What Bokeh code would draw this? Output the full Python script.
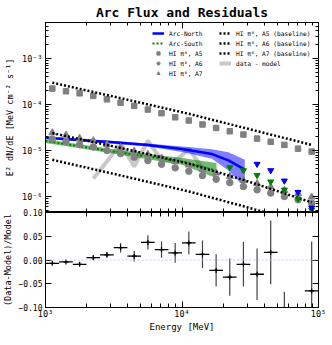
import math
from bokeh.plotting import figure
from bokeh.models import (LogAxis, LinearAxis, FixedTicker, CustomJSTickFormatter,
                          Legend, LegendItem, Span)
from bokeh.layouts import column
from bokeh.embed import file_html
from bokeh.resources import INLINE

FONT = "DejaVu Sans Mono"
NAN = float("nan")

# ---------------- data ----------------
energy = [1122, 1413, 1778, 2239, 2818, 3548, 4467, 5623, 7079, 8913,
          11220, 14125, 17783, 22387, 28184, 35481, 44668, 56234, 70795, 89125]
energy_lo = [1000, 1259, 1585, 1995, 2512, 3162, 3981, 5012, 6310, 7943,
             10000, 12589, 15849, 19953, 25119, 31623, 39811, 50119, 63096, 79433]
energy_hi = [1259, 1585, 1995, 2512, 3162, 3981, 5012, 6310, 7943, 10000,
             12589, 15849, 19953, 25119, 31623, 39811, 50119, 63096, 79433, 100000]

hi_a5 = [2.23e-4, 1.95e-4, 1.76e-4, 1.55e-4, 1.30e-4, 1.10e-4, 9.4e-5, 7.8e-5, 6.5e-5, 5.3e-5,
         4.5e-5, 3.7e-5, 3.1e-5, 2.63e-5, 2.23e-5, 1.82e-5, 1.55e-5, 1.33e-5, 1.10e-5, 9.5e-6]
hi_a6 = [1.79e-5, 1.59e-5, 1.35e-5, 1.20e-5, 1.0e-5, 8.6e-6, 7.15e-6, 6.07e-6, 5.04e-6, 4.21e-6,
         3.55e-6, 2.86e-6, 2.38e-6, 2.01e-6, 1.65e-6, 1.40e-6, 1.19e-6, 1.0e-6, 8.5e-7, 7.15e-7]
hi_a7 = [2.45e-5, 2.17e-5, 1.84e-5, 1.64e-5, 1.36e-5, 1.17e-5, 9.75e-6, 8.3e-6, 6.9e-6, 5.75e-6,
         4.85e-6, 3.9e-6, 3.25e-6, 2.75e-6, 2.25e-6, 1.91e-6, 1.62e-6, 1.36e-6, 1.16e-6, 9.75e-7]

base_energy = [1122, 3548, 11220, 28184, 89125]
base_a5 = [3.0e-4, 1.38e-4, 6.3e-5, 3.15e-5, 1.33e-5]
base_a6 = [2.40e-5, 1.14e-5, 5.2e-6, 2.30e-6, 7.5e-7]
base_a7 = [6.3e-6, 2.88e-6, 1.29e-6, 6.15e-7, 2.34e-7]

north_energy = [1000, 1778, 3162, 5623, 10000, 16596, 21878, 28840]
north_flux = [1.89e-5, 1.69e-5, 1.51e-5, 1.32e-5, 1.08e-5, 8.4e-6, 6.1e-6, 3.85e-6]
north_hi = [2.0e-5, 1.8e-5, 1.62e-5, 1.43e-5, 1.23e-5, 1.07e-5, 9.2e-6, 6.3e-6]
north_lo = [1.78e-5, 1.58e-5, 1.41e-5, 1.22e-5, 9.3e-6, 6.6e-6, 3.7e-6, 1.6e-6]

south_energy = [1000, 1778, 3162, 5623, 10000, 17900]
south_flux = [1.61e-5, 1.24e-5, 9.5e-6, 7.4e-6, 5.8e-6, 3.67e-6]
south_hi = [1.77e-5, 1.37e-5, 1.07e-5, 8.5e-6, 6.9e-6, 5.4e-6]
south_lo = [1.47e-5, 1.12e-5, 8.5e-6, 6.5e-6, 4.9e-6, 2.5e-6]

north_ul_energy = [35481, 44668, 56234, 70795, 89125]
north_ul = [5.1e-6, 3.7e-6, 2.2e-6, 1.24e-6, 5.7e-7]
south_ul_energy = [22387, 28184, 35481, 44668, 56234, 70795, 89125]
south_ul = [4.3e-6, 3.7e-6, 2.9e-6, 2.1e-6, 1.4e-6, 8.9e-7, 5.1e-7]

data_minus_model = [NAN, NAN, NAN, 2.46e-6, 5.8e-6, 1.42e-5, 4.5e-6, 1.65e-5, 6.1e-6, 5.8e-6,
                    1.1e-5, 4.1e-6, NAN, NAN, NAN, NAN, NAN, NAN, NAN, NAN]

residual = [-0.007, -0.004, -0.009, 0.005, 0.011, 0.026, 0.008, 0.037, 0.022, 0.015,
            0.036, 0.012, -0.022, -0.036, -0.009, -0.030, 0.016, -0.14, -0.25, -0.065]
residual_err = [0.003, 0.003, 0.003, 0.005, 0.006, 0.010, 0.011, 0.015, 0.017, 0.021,
                0.024, 0.029, 0.034, 0.039, 0.047, 0.054, 0.067, 0.073, 0.10, 0.104]

x_major = [1e3, 1e4, 1e5]
x_minor = [m * 10 ** e for e in (3, 4) for m in range(2, 10)]
y_major = [1e-6, 1e-5, 1e-4, 1e-3]
y_minor = [m * 10.0 ** e for e in (-7, -6, -5, -4, -3) for m in range(2, 10)]
res_ticks = [-0.10, -0.05, 0.0, 0.05, 0.10]

# ---------------- formatters ----------------
sup_fmt = CustomJSTickFormatter(code=r"""
const sup = {"-": "\u207b", "0": "\u2070", "1": "\u00b9", "2": "\u00b2", "3": "\u00b3",
             "4": "\u2074", "5": "\u2075", "6": "\u2076", "7": "\u2077", "8": "\u2078", "9": "\u2079"};
const e = Math.round(Math.log10(tick));
return "10" + String(e).split("").map(c => sup[c]).join("");
""")
res_fmt = CustomJSTickFormatter(code=r"""
const s = Math.abs(tick).toFixed(2);
return (tick < -1e-9 ? "\u2212" : "") + s;
""")


def style_axis(ax, labels=True, major_in=6, minor_in=3, size="8px"):
    ax.major_tick_in = major_in
    ax.major_tick_out = 0
    ax.minor_tick_in = minor_in
    ax.minor_tick_out = 0
    ax.axis_line_color = "black"
    ax.major_tick_line_color = "black"
    ax.minor_tick_line_color = "black"
    ax.major_label_text_font = FONT
    if labels:
        ax.major_label_text_font_size = size
        ax.major_label_text_color = "black"
        ax.major_label_standoff = 3
    else:
        ax.major_label_text_font_size = "1px"
        ax.major_label_text_alpha = 0
        ax.major_label_standoff = 0


# ---------------- top panel ----------------
p1 = figure(frame_width=273, frame_height=190, x_axis_type="log", y_axis_type="log",
            x_range=(1e3, 1e5), y_range=(4.5e-7, 6.1e-3),
            output_backend="svg", toolbar_location=None,
            min_border_left=39, min_border_right=4, min_border_top=0, min_border_bottom=0,
            title="Arc Flux and Residuals")
p1.title.text_font = FONT
p1.title.text_font_size = "13px"
p1.title.text_font_style = "bold"
p1.title.text_color = "black"
p1.title.align = "center"
p1.title.standoff = 5
p1.title.offset = 0
p1.grid.visible = False
p1.outline_line_color = "black"

xt = FixedTicker(ticks=x_major, minor_ticks=x_minor)
yt = FixedTicker(ticks=y_major, minor_ticks=y_minor)

ax = p1.xaxis[0]
ax.ticker = xt
style_axis(ax, labels=False, major_in=5, minor_in=4)
top_ax = LogAxis(ticker=xt)
style_axis(top_ax, labels=False, major_in=6, minor_in=3)
p1.add_layout(top_ax, "above")

ay = p1.yaxis[0]
ay.ticker = yt
ay.formatter = sup_fmt
style_axis(ay, labels=True, major_in=6, minor_in=3, size="8.5px")
ay.axis_label = "E\u00b2 dN/dE [MeV cm\u207b\u00b2 s\u207b\u00b9]"
ay.axis_label_text_font = FONT
ay.axis_label_text_font_size = "8.5px"
ay.axis_label_text_font_style = "normal"
ay.axis_label_text_color = "black"
ay.axis_label_standoff = 4
right_ax = LogAxis(ticker=yt)
style_axis(right_ax, labels=False)
p1.add_layout(right_ax, "right")

r_dm = p1.line(energy, data_minus_model, line_color="#c8c8c8", line_width=4)
p1.varea(x=north_energy, y1=north_lo, y2=north_hi, fill_color="#0000ff", fill_alpha=0.5)
p1.varea(x=south_energy, y1=south_lo, y2=south_hi, fill_color="#008000", fill_alpha=0.55)
r_north = p1.line(north_energy, north_flux, line_color="#0000ff", line_width=2.5)
r_south = p1.line(south_energy, south_flux, line_color="#008000", line_width=2, line_dash="2 2")
r_a5 = p1.scatter(energy, hi_a5, marker="square", size=5.5, fill_color="#808080", line_color="#808080")
r_a6 = p1.scatter(energy, hi_a6, marker="circle", size=6.5, fill_color="#808080", line_color="#808080")
r_a7 = p1.scatter(energy, hi_a7, marker="triangle", size=7, fill_color="#808080", line_color="#808080")
r_b5 = p1.line(base_energy, base_a5, line_color="black", line_width=2.5, line_dash="2 2")
r_b6 = p1.line(base_energy, base_a6, line_color="black", line_width=2.5, line_dash="2 2")
r_b7 = p1.line(base_energy, base_a7, line_color="black", line_width=2.5, line_dash="2 2")
p1.scatter(south_ul_energy, south_ul, marker="inverted_triangle", size=6,
           fill_color="#008000", line_color="#008000")
p1.scatter(north_ul_energy, north_ul, marker="inverted_triangle", size=6,
           fill_color="#0000ff", line_color="#0000ff")


def make_legend(items, loc):
    lg = Legend(items=items, location=loc, orientation="vertical")
    lg.border_line_alpha = 0
    lg.background_fill_alpha = 0
    lg.label_text_font = FONT
    lg.label_text_font_size = "6.2px"
    lg.label_text_color = "black"
    lg.glyph_width = 12
    lg.glyph_height = 8
    lg.label_height = 8
    lg.spacing = 2
    lg.padding = 0
    lg.margin = 0
    lg.label_standoff = 5
    return lg


leg1 = make_legend([
    LegendItem(label="Arc-North", renderers=[r_north]),
    LegendItem(label="Arc-South", renderers=[r_south]),
    LegendItem(label="HI \u03c0\u2070, A5", renderers=[r_a5]),
    LegendItem(label="HI \u03c0\u2070, A6", renderers=[r_a6]),
    LegendItem(label="HI \u03c0\u2070, A7", renderers=[r_a7]),
], (107, 135))
leg2 = make_legend([
    LegendItem(label="HI \u03c0\u2070, A5 (baseline)", renderers=[r_b5]),
    LegendItem(label="HI \u03c0\u2070, A6 (baseline)", renderers=[r_b6]),
    LegendItem(label="HI \u03c0\u2070, A7 (baseline)", renderers=[r_b7]),
    LegendItem(label="data - model", renderers=[r_dm]),
], (174, 145))
p1.add_layout(leg1, "center")
p1.add_layout(leg2, "center")

# ---------------- residual panel ----------------
p2 = figure(frame_width=273, frame_height=95, x_axis_type="log",
            x_range=p1.x_range, y_range=(-0.10, 0.10),
            output_backend="svg", toolbar_location=None,
            min_border_left=39, min_border_right=10, min_border_top=6, min_border_bottom=0)
p2.title.text = ""
p2.grid.visible = False
p2.outline_line_color = "black"
p2.border_fill_color = None
p2.background_fill_color = "white"
p2.margin = (-6, 0, 0, 0)

bx = p2.xaxis[0]
bx.ticker = xt
bx.formatter = sup_fmt
style_axis(bx, labels=True, major_in=6, minor_in=4, size="8.5px")
bx.major_label_standoff = 1
bx.axis_label = "Energy [MeV]"
bx.axis_label_text_font = FONT
bx.axis_label_text_font_size = "9px"
bx.axis_label_text_font_style = "normal"
bx.axis_label_text_color = "black"
bx.axis_label_standoff = 0
top2 = LogAxis(ticker=xt)
style_axis(top2, labels=False, major_in=5, minor_in=4)
p2.add_layout(top2, "above")

rt = FixedTicker(ticks=res_ticks, minor_ticks=[])
by = p2.yaxis[0]
by.ticker = rt
by.formatter = res_fmt
style_axis(by, labels=True, major_in=6, minor_in=0, size="8px")
by.axis_label = "(Data-Model)/Model"
by.axis_label_text_font = FONT
by.axis_label_text_font_size = "8.5px"
by.axis_label_text_font_style = "normal"
by.axis_label_text_color = "black"
by.axis_label_standoff = 2
right2 = LinearAxis(ticker=rt)
style_axis(right2, labels=False, major_in=6, minor_in=0)
p2.add_layout(right2, "right")

p2.add_layout(Span(location=0, dimension="width", line_color="#b4b4f0",
                   line_width=0.8, line_dash="2 2"))
res_lo = [r - e for r, e in zip(residual, residual_err)]
res_hi = [r + e for r, e in zip(residual, residual_err)]
p2.segment(x0=energy, y0=res_lo, x1=energy, y1=res_hi, line_color="#444444", line_width=1.2)
p2.segment(x0=energy_lo, y0=residual, x1=energy_hi, y1=residual, line_color="black", line_width=1.3)
p2.scatter(energy, residual, marker="cross", size=5, line_color="black", line_width=1.2)

layout = column(p1, p2, spacing=0)
open("out.html", "w", encoding="utf-8").write(file_html(layout, INLINE))
